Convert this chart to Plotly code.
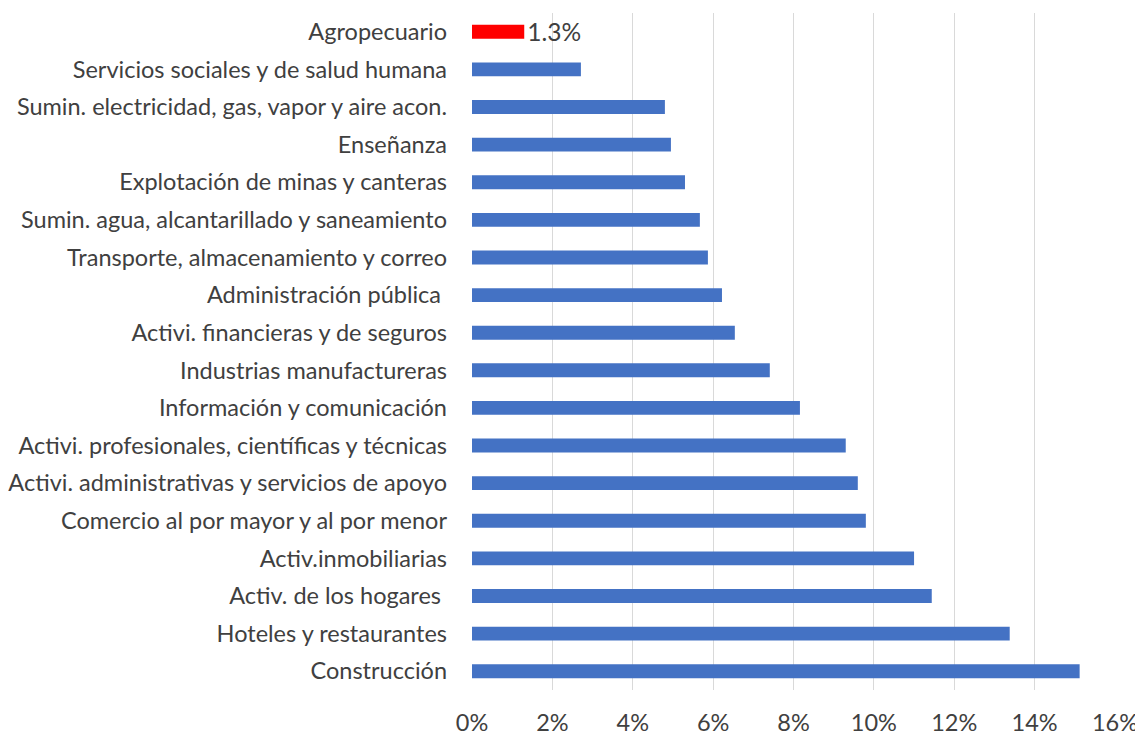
import plotly.graph_objects as go

categories = [
    "Agropecuario",
    "Servicios sociales y de salud humana",
    "Sumin. electricidad, gas, vapor y aire acon.",
    "Enseñanza",
    "Explotación de minas y canteras",
    "Sumin. agua, alcantarillado y saneamiento",
    "Transporte, almacenamiento y correo",
    "Administración pública ",
    "Activi. financieras y de seguros",
    "Industrias manufactureras",
    "Información y comunicación",
    "Activi. profesionales, científicas y técnicas",
    "Activi. administrativas y servicios de apoyo",
    "Comercio al por mayor y al por menor",
    "Activ.inmobiliarias",
    "Activ. de los hogares ",
    "Hoteles y restaurantes",
    "Construcción",
]
values = [1.3, 2.71, 4.80, 4.95, 5.30, 5.67, 5.87, 6.22, 6.54, 7.41, 8.16,
          9.30, 9.60, 9.80, 11.0, 11.44, 13.38, 15.12]
highlight = "Agropecuario"

colors = ["#FF0000" if c == highlight else "#4472C4" for c in categories]
labels = [f"{v:.1f}%" if c == highlight else "" for c, v in zip(categories, values)]

fig = go.Figure(go.Bar(
    y=categories, x=values, orientation="h",
    marker=dict(color=colors, line=dict(width=0)),
    width=0.37,
    text=labels, textposition="outside", cliponaxis=False,
    constraintext="none",
    textfont=dict(size=24.5, color="#404040", family="Lato"),
))

fig.update_layout(
    width=1135, height=729,
    margin=dict(l=464, r=28, t=5, b=47),
    plot_bgcolor="white", paper_bgcolor="white",
    font=dict(family="Lato", color="#404040"),
    showlegend=False,
    bargap=0.63,
)
fig.update_xaxes(
    range=[0, 16], dtick=2, ticksuffix="%",
    showgrid=True, gridcolor="#D9D9D9", gridwidth=1,
    zeroline=False, showline=False, automargin=False,
    tickfont=dict(size=23.5, color="#404040"),
    ticklabelstandoff=16,
)
fig.update_yaxes(
    categoryorder="array", categoryarray=categories[::-1],
    tickfont=dict(size=23.5, color="#404040"),
    showgrid=False, ticklabelstandoff=24, automargin=False,
)

fig.write_html("out.html")
